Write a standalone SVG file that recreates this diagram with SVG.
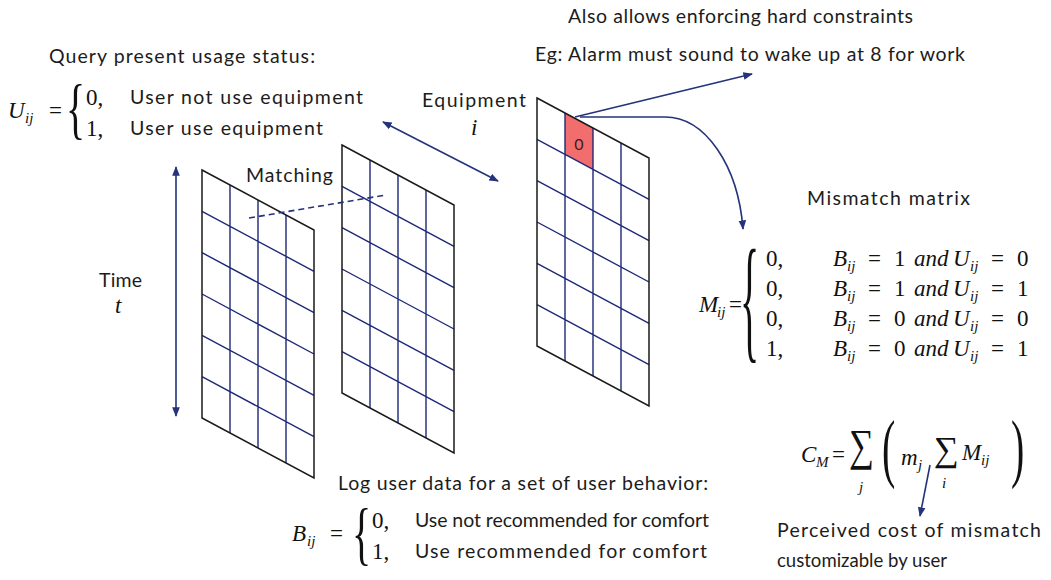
<svg xmlns="http://www.w3.org/2000/svg" xmlns:xlink="http://www.w3.org/1999/xlink" width="1051" height="580" viewBox="0 0 1051 580">
  <style>
    .t{font-family:Lato,"Open Sans","Liberation Sans",sans-serif;font-size:19.5px;fill:#1c1c1c}
    .m{font-family:"Liberation Serif","DejaVu Serif",serif;font-size:23px;fill:#111}
    .i{font-style:italic}
    .sub{font-family:"Liberation Serif","DejaVu Serif",serif;font-size:15px;font-style:italic;fill:#111}
    .br{font-family:"Liberation Serif","DejaVu Serif",serif;font-size:40px;fill:#111}
    .sum{font-family:"Liberation Serif","DejaVu Serif",serif;font-size:35px;fill:#111}
    .frame{fill:none;stroke:#1a1a1a;stroke-width:1.5}
    .cell{fill:none;stroke:#1e2878;stroke-width:1.4}
    .conn{fill:none;stroke:#24337c;stroke-width:1.6}
  </style>
  <defs>
    <marker id="ah" viewBox="0 0 10 10" refX="9" refY="5" markerWidth="6" markerHeight="6" orient="auto-start-reverse">
      <path d="M0,1 L10,5 L0,9 z" fill="#24337c"/>
    </marker>
    <!-- 4 x 6 skewed table, 112 wide, 248 tall, slanting 60px down to the right -->
    <g id="grid">
      <path class="cell" d="M28,15 V263 M56,30 V278 M84,45 V293
                             M0,41.33 L112,101.33 M0,82.67 L112,142.67 M0,124 L112,184
                             M0,165.33 L112,225.33 M0,206.67 L112,266.67"/>
      <polygon class="frame" points="0,0 112,60 112,308 0,248"/>
    </g>
  </defs>

  <!-- tables -->
  <g id="usage-table">
    <use xlink:href="#grid" href="#grid" x="202" y="170"/>
  </g>
  <g id="behavior-table">
    <use xlink:href="#grid" href="#grid" x="342" y="145"/>
  </g>
  <g id="equipment-table">
    <polygon points="565,113 593,128 593,169.3 565,154.3" fill="#f26d6d"/>
    <use xlink:href="#grid" href="#grid" x="537" y="98"/>
    <text x="579" y="150" text-anchor="middle" font-family="Lato, Liberation Sans, sans-serif" font-size="16" fill="#3a2020">0</text>
  </g>

  <!-- connectors -->
  <g id="connectors">
    <line class="conn" x1="176" y1="167" x2="176" y2="416" marker-start="url(#ah)" marker-end="url(#ah)"/>
    <line class="conn" x1="383" y1="122" x2="498" y2="181" marker-start="url(#ah)" marker-end="url(#ah)"/>
    <line class="conn" x1="249" y1="218" x2="386" y2="195" stroke-dasharray="6 4"/>
    <line class="conn" x1="575" y1="117" x2="752" y2="74" marker-end="url(#ah)"/>
    <path class="conn" d="M580,117 H665 C705,117 738,165 743,229" marker-end="url(#ah)"/>
    <line class="conn" x1="930" y1="465" x2="920" y2="516" marker-end="url(#ah)"/>
  </g>

  <!-- usage status -->
  <g id="usage-label">
    <text class="t" x="49" y="63" textLength="266">Query present usage status:</text>
    <text class="m i" x="8" y="118">U</text>
    <text class="sub" x="25" y="123">ij</text>
    <text class="m" x="49" y="118">=</text>
    <text class="br" transform="translate(66,131) scale(1,1.7)">{</text>
    <text class="m" x="86" y="105">0,</text>
    <text class="m" x="86" y="136">1,</text>
    <text class="t" x="130" y="104" textLength="233">User not use equipment</text>
    <text class="t" x="130" y="135" textLength="193">User use equipment</text>
  </g>

  <g id="equipment-label">
    <text class="t" x="422" y="107" textLength="104">Equipment</text>
    <text class="m i" x="471" y="135">i</text>
  </g>

  <g id="matching-label">
    <text class="t" x="246" y="182" textLength="87">Matching</text>
  </g>

  <g id="time-label">
    <text class="t" x="99" y="287" textLength="43">Time</text>
    <text class="m i" x="115" y="313">t</text>
  </g>

  <g id="constraint-label">
    <text class="t" x="568" y="23" textLength="345">Also allows enforcing hard constraints</text>
    <text class="t" x="535" y="61" textLength="430">Eg: Alarm must sound to wake up at 8 for work</text>
  </g>

  <!-- mismatch matrix -->
  <g id="mismatch">
    <text class="t" x="807" y="205" textLength="163">Mismatch matrix</text>
    <text class="m i" x="699" y="312">M</text>
    <text class="sub" x="717" y="317">ij</text>
    <text class="m" x="729" y="312">=</text>
    <text class="br" transform="translate(740,345) scale(1,3.45)">{</text>
    <text class="m" x="766" y="266">0,</text>
    <text class="m" x="766" y="296">0,</text>
    <text class="m" x="766" y="326">0,</text>
    <text class="m" x="766" y="356">1,</text>
    <text class="m"><tspan x="833" y="266" class="i">B</tspan><tspan class="sub" x="847" y="271">ij</tspan><tspan x="868" y="266">=</tspan><tspan x="894">1</tspan><tspan x="914" class="i">and</tspan><tspan x="953" class="i">U</tspan><tspan class="sub" x="970" y="271">ij</tspan><tspan x="991" y="266">=</tspan><tspan x="1017">0</tspan></text>
    <text class="m"><tspan x="833" y="296" class="i">B</tspan><tspan class="sub" x="847" y="301">ij</tspan><tspan x="868" y="296">=</tspan><tspan x="894">1</tspan><tspan x="914" class="i">and</tspan><tspan x="953" class="i">U</tspan><tspan class="sub" x="970" y="301">ij</tspan><tspan x="991" y="296">=</tspan><tspan x="1017">1</tspan></text>
    <text class="m"><tspan x="833" y="326" class="i">B</tspan><tspan class="sub" x="847" y="331">ij</tspan><tspan x="868" y="326">=</tspan><tspan x="894">0</tspan><tspan x="914" class="i">and</tspan><tspan x="953" class="i">U</tspan><tspan class="sub" x="970" y="331">ij</tspan><tspan x="991" y="326">=</tspan><tspan x="1017">0</tspan></text>
    <text class="m"><tspan x="833" y="356" class="i">B</tspan><tspan class="sub" x="847" y="361">ij</tspan><tspan x="868" y="356">=</tspan><tspan x="894">0</tspan><tspan x="914" class="i">and</tspan><tspan x="953" class="i">U</tspan><tspan class="sub" x="970" y="361">ij</tspan><tspan x="991" y="356">=</tspan><tspan x="1017">1</tspan></text>
  </g>

  <!-- logged behaviour -->
  <g id="behavior-label">
    <text class="t" x="338" y="490" textLength="370">Log user data for a set of user behavior:</text>
    <text class="m i" x="292" y="541">B</text>
    <text class="sub" x="307" y="546">ij</text>
    <text class="m" x="330" y="541">=</text>
    <text class="br" transform="translate(352,557) scale(1,1.75)">{</text>
    <text class="m" x="372" y="528">0,</text>
    <text class="m" x="372" y="559">1,</text>
    <text class="t" x="415" y="527" textLength="294">Use not recommended for comfort</text>
    <text class="t" x="415" y="558" textLength="292">Use recommended for comfort</text>
  </g>

  <!-- total cost -->
  <g id="cost">
    <text class="m i" x="801" y="462">C</text>
    <text class="sub" x="816" y="467">M</text>
    <text class="m" x="832" y="462">=</text>
    <text class="sum" transform="translate(849,460) scale(1,1.28)">∑</text>
    <text class="sub" x="859" y="492">j</text>
    <text class="br" transform="translate(882,473) scale(1,1.9)">(</text>
    <text class="m i" x="901" y="465">m</text>
    <text class="sub" x="918" y="470">j</text>
    <text class="sum" x="934" y="461">∑</text>
    <text class="sub" x="942" y="488">i</text>
    <text class="m i" x="962" y="460">M</text>
    <text class="sub" x="981" y="465">ij</text>
    <text class="br" transform="translate(1011,473) scale(1,1.9)">)</text>
    <text class="t" x="777" y="537" textLength="264">Perceived cost of mismatch</text>
    <text class="t" x="777" y="567" textLength="170" lengthAdjust="spacingAndGlyphs">customizable by user</text>
  </g>
</svg>
